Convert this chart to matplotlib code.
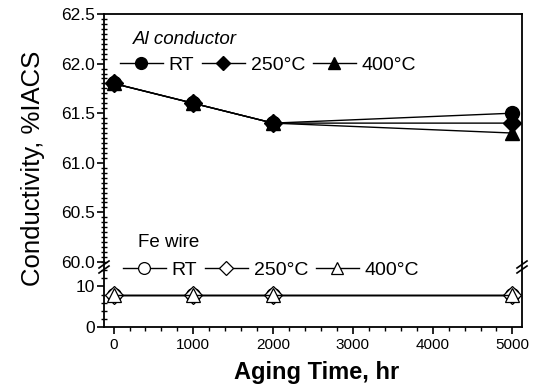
import matplotlib
matplotlib.use('Agg')
import matplotlib.pyplot as plt
from matplotlib.ticker import MultipleLocator, FormatStrFormatter
from matplotlib.lines import Line2D

# ---- data ----
time_hr = [0, 1000, 2000, 5000]
al_rt = [61.8, 61.6, 61.4, 61.5]
al_250 = [61.8, 61.6, 61.4, 61.4]
al_400 = [61.8, 61.6, 61.4, 61.3]
fe_rt = [8, 8, 8, 8]
fe_250 = [8, 8, 8, 8]
fe_400 = [8, 8, 8, 8]
series_labels = ['RT', '250°C', '400°C']
top_ticks = [60.0, 60.5, 61.0, 61.5, 62.0, 62.5]
bottom_ticks = [0, 10]
x_ticks = [0, 1000, 2000, 3000, 4000, 5000]

plt.rcParams['font.family'] = ['Liberation Sans', 'DejaVu Sans']

W, H = 533, 389
fig = plt.figure(figsize=(W / 100, H / 100), dpi=100)

def fx(px):
    return px / W

def fy(py):
    return 1 - py / H

left, right, top, mid, bot = 104, 522, 14, 262, 327
ax1 = fig.add_axes([fx(left), fy(mid), fx(right) - fx(left), fy(top) - fy(mid)])
ax2 = fig.add_axes([fx(left), fy(bot), fx(right) - fx(left), fy(mid) - fy(bot)])

lw = 1.0
markers = ['o', 'D', '^']
msizes = [10, 9, 10]
for ys, m, ms in zip([al_rt, al_250, al_400], markers, msizes):
    ax1.plot(time_hr, ys, color='black', lw=lw, marker=m, ms=ms, mfc='black',
             mec='black', clip_on=False, zorder=3)
for ys, m, ms in zip([fe_rt, fe_250, fe_400], markers, msizes):
    ax2.plot(time_hr, ys, color='black', lw=lw, marker=m, ms=ms, mfc='white',
             mec='black', mew=0.9, clip_on=False, zorder=3)

xlim = (-120, 5120)
for ax in (ax1, ax2):
    ax.set_xlim(*xlim)
    for s in ax.spines.values():
        s.set_linewidth(1.3)

ax1.set_ylim(60.0, 62.5)
ax1.set_yticks(top_ticks)
ax1.yaxis.set_major_formatter(FormatStrFormatter('%.1f'))
ax1.yaxis.set_minor_locator(MultipleLocator(0.05))
ax1.spines['bottom'].set_visible(False)
ax1.tick_params(axis='x', which='both', bottom=False, labelbottom=False)
ax1.tick_params(axis='y', which='major', direction='out', length=5, width=1.2,
                labelsize=12.5, pad=1.5)
ax1.tick_params(axis='y', which='minor', direction='inout', length=4, width=1.0)

ax2.set_ylim(0, 16)
ax2.set_yticks(bottom_ticks)
ax2.yaxis.set_minor_locator(MultipleLocator(2))
ax2.spines['top'].set_visible(False)
ax2.set_xticks(x_ticks)
ax2.xaxis.set_minor_locator(MultipleLocator(200))
ax2.tick_params(axis='y', which='major', direction='out', length=5, width=1.2,
                labelsize=12.5, pad=1.5)
ax2.tick_params(axis='y', which='minor', direction='inout', length=4, width=1.0)
ax2.tick_params(axis='x', which='major', direction='out', length=5, width=1.2,
                labelsize=11, pad=3)
ax2.tick_params(axis='x', which='minor', direction='out', length=3, width=1.0)

fig.text(fx(317), fy(372), 'Aging Time, hr', fontsize=17, fontweight='bold',
         ha='center', va='center')
fig.text(fx(33), fy(168), 'Conductivity, %IACS', rotation=90, fontsize=18.5,
         ha='center', va='center')

# break marks
for xb in (left, right):
    for dy in (0, 5):
        fig.add_artist(Line2D([fx(xb - 5), fx(xb + 5)],
                              [fy(mid + 6 + dy), fy(mid - 1 + dy)],
                              color='black', lw=1.2))

# legends
leg_kw = dict(loc='center left', ncol=3, frameon=False, handlelength=2.2,
              handletextpad=0.3, columnspacing=0.4, fontsize=14,
              borderaxespad=0, borderpad=0)

fig.text(fx(133), fy(40), 'Al conductor', fontsize=13.5, style='italic',
         ha='left', va='center')
al_handles = [Line2D([], [], color='black', lw=lw, marker=m, ms=ms - 1.5,
                     mfc='black', mec='black') for m, ms in zip(markers, msizes)]
fig.legend(al_handles, series_labels, bbox_to_anchor=(fx(120), fy(65)), **leg_kw)

fig.text(fx(138), fy(243), 'Fe wire', fontsize=13.5, ha='left', va='center')
fe_handles = [Line2D([], [], color='black', lw=lw, marker=m, ms=ms - 1.5,
                     mfc='white', mec='black', mew=0.9)
              for m, ms in zip(markers, msizes)]
fig.legend(fe_handles, series_labels, bbox_to_anchor=(fx(123), fy(270)), **leg_kw)

fig.savefig('out.png', dpi=100)
